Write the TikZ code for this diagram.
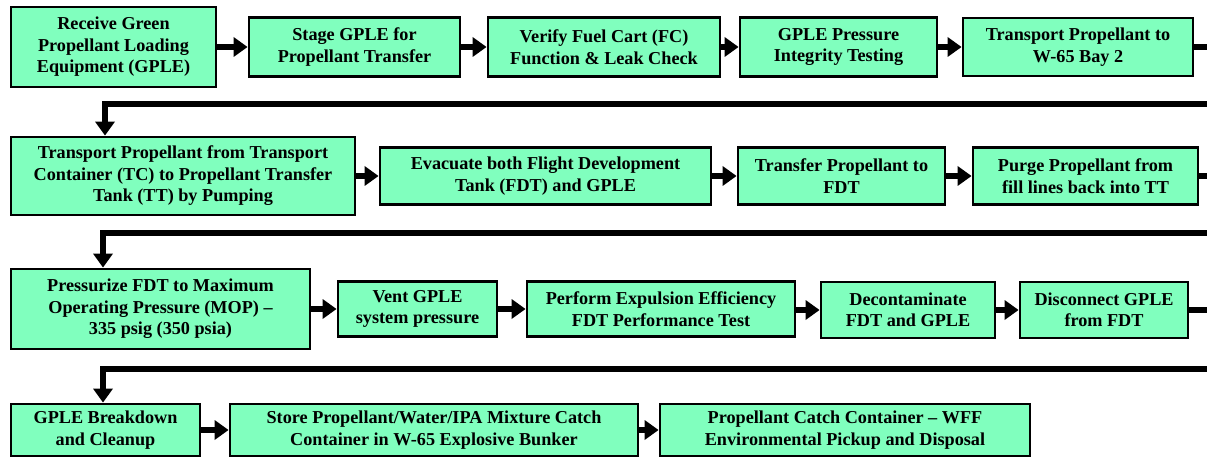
\documentclass[tikz,border=0pt]{standalone}
\usepackage{fontspec}
\setmainfont{Liberation Serif}
\usetikzlibrary{arrows.meta}
\definecolor{boxgreen}{RGB}{128,255,190}
\tikzset{
  stepbox/.style={draw=black, line width=2.8pt, fill=boxgreen, align=center,
    inner sep=0pt, font=\bfseries\fontsize{18.2}{21.5}\selectfont},
  conn/.style={line width=6pt, -{Triangle[length=14pt,width=19pt]}},
  plainline/.style={line width=6pt},
}
\begin{document}
\begin{tikzpicture}[x=1pt,y=-1pt]
\useasboundingbox (0,0) rectangle (1207,457);
% Row 1
\node[stepbox, minimum width=205, minimum height=80] (n1) at (113.5,47) {Receive Green\\Propellant Loading\\Equipment (GPLE)};
\node[stepbox, minimum width=211, minimum height=59] (n2) at (354.5,47) {Stage GPLE for\\Propellant Transfer};
\node[stepbox, minimum width=232, minimum height=59] (n3) at (604,47) {Verify Fuel Cart (FC)\\Function \& Leak Check};
\node[stepbox, minimum width=197, minimum height=59] (n4) at (838.5,47) {GPLE Pressure\\Integrity Testing};
\node[stepbox, minimum width=230, minimum height=58] (n5) at (1078,47) {Transport Propellant to\\W-65 Bay 2};
% Row 2
\node[stepbox, minimum width=344, minimum height=78] (n6) at (183,176) {Transport Propellant from Transport\\Container (TC) to Propellant Transfer\\Tank (TT) by Pumping};
\node[stepbox, minimum width=331, minimum height=57] (n7) at (545.5,176) {Evacuate both Flight Development\\Tank (FDT) and GPLE};
\node[stepbox, minimum width=207, minimum height=57] (n8) at (841.5,176) {Transfer Propellant to\\FDT};
\node[stepbox, minimum width=225, minimum height=57] (n9) at (1085.5,176) {Purge Propellant from\\fill lines back into TT};
% Row 3
\node[stepbox, minimum width=299, minimum height=80] (n10) at (160.5,309) {Pressurize FDT to Maximum\\Operating Pressure (MOP) --\\335 psig (350 psia)};
\node[stepbox, minimum width=159, minimum height=55] (n11) at (417.5,309) {Vent GPLE\\system pressure};
\node[stepbox, minimum width=268, minimum height=55] (n12) at (661,309) {Perform Expulsion Efficiency\\FDT Performance Test};
\node[stepbox, minimum width=174, minimum height=56] (n13) at (908,310) {Decontaminate\\FDT and GPLE};
\node[stepbox, minimum width=168, minimum height=56] (n14) at (1104,310) {Disconnect GPLE\\from FDT};
% Row 4
\node[stepbox, minimum width=189, minimum height=52] (n15) at (105.5,430) {GPLE Breakdown\\and Cleanup};
\node[stepbox, minimum width=408, minimum height=52] (n16) at (434,430) {Store Propellant/Water/IPA Mixture Catch\\Container in W-65 Explosive Bunker};
\node[stepbox, minimum width=370, minimum height=52] (n17) at (845,430) {Propellant Catch Container -- WFF\\Environmental Pickup and Disposal};
% Edge coordinates
\coordinate (e1) at (1207,47);
\coordinate (r1a) at (1207,104);
\coordinate (r1b) at (105,104);
\coordinate (e2) at (1207,176);
\coordinate (r2a) at (1207,233);
\coordinate (r2b) at (103,233);
\coordinate (e3) at (1207,310);
\coordinate (r3a) at (1207,369);
\coordinate (r3b) at (103,369);
% Row 1 connectors
\draw[conn] (n1) -- (n2);
\draw[conn] (n2) -- (n3);
\draw[conn] (n3) -- (n4);
\draw[conn] (n4) -- (n5);
\draw[plainline] (n5.east) -- (e1);
\draw[conn] (r1a) -- (r1b) -- (r1b |- n6.north);
% Row 2 connectors
\draw[conn] (n6) -- (n7);
\draw[conn] (n7) -- (n8);
\draw[conn] (n8) -- (n9);
\draw[plainline] (n9.east) -- (e2);
\draw[conn] (r2a) -- (r2b) -- (r2b |- n10.north);
% Row 3 connectors
\draw[conn] (n10.east |- n11) -- (n11);
\draw[conn] (n11) -- (n12);
\draw[conn] (n12.east |- n13) -- (n13);
\draw[conn] (n13) -- (n14);
\draw[plainline] (n14.east) -- (e3);
\draw[conn] (r3a) -- (r3b) -- (r3b |- n15.north);
% Row 4 connectors
\draw[conn] (n15) -- (n16);
\draw[conn] (n16) -- (n17);
\end{tikzpicture}
\end{document}
